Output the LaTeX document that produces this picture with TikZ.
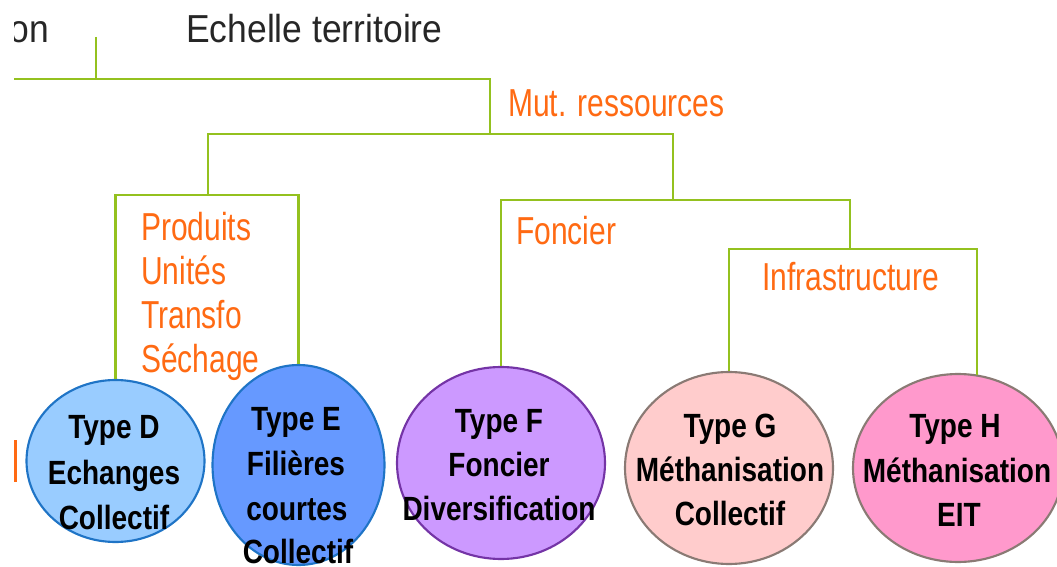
\documentclass[tikz,border=0pt]{standalone}
\usepackage{fontspec}
\setmainfont{Liberation Sans}
\usetikzlibrary{shapes.geometric}
\definecolor{gline}{HTML}{94C11F}
\definecolor{orng}{HTML}{FF6A13}
\definecolor{dfill}{HTML}{99CCFF}
\definecolor{dborder}{HTML}{1F74C6}
\definecolor{efill}{HTML}{6699FF}
\definecolor{ffill}{HTML}{CC99FF}
\definecolor{fborder}{HTML}{7434A6}
\definecolor{gfill}{HTML}{FFCCCC}
\definecolor{hfill}{HTML}{FF99CC}
\definecolor{ghborder}{HTML}{8A7A74}
\newcommand\vst[2]{\scalebox{1}[#1]{#2}}
\begin{document}
\begin{tikzpicture}[x=0.75pt,y=-0.75pt,
  conn/.style={draw=gline,line width=1.8pt},
  olab/.style={anchor=base west,inner sep=0pt,text=orng,font=\fontsize{22.5}{27}\selectfont},
  tlab/.style={anchor=base,inner sep=0pt,font=\bfseries\fontsize{21}{25}\selectfont},
  hlab/.style={inner sep=0pt,text=black!85,font=\fontsize{26.6}{32}\selectfont},
  bubble/.style={ellipse,inner sep=0pt,line width=1.6pt}]
\useasboundingbox (0,0) rectangle (1057,567);
\begin{scope}
\clip (14,0) rectangle (1057,567);
% header texts
\node[hlab,anchor=base east] (on) at (49,43) {\vst{1.1}{on}};
\node[hlab,anchor=base west] (echelle) at (186,43) {\vst{1.1}{Echelle territoire}};
% fragment at left edge
\fill[orng] (14,440) rectangle (16.5,482);
% orange labels
\node[olab] (mut) at (508,117) {\vst{1.3}{Mut. ressources}};
\node[olab] (p1) at (141,240) {\vst{1.3}{Produits}};
\node[olab] (p2) at (141,284) {\vst{1.3}{Unités}};
\node[olab] (p3) at (141,328) {\vst{1.3}{Transfo}};
\node[olab] (p4) at (141,372) {\vst{1.3}{Séchage}};
\node[olab] (fonc) at (516,244) {\vst{1.3}{Foncier}};
\node[olab] (infra) at (762,290) {\vst{1.3}{Infrastructure}};
% ellipses
\node[bubble,draw=dborder,fill=dfill,minimum width=133.5pt,minimum height=121.5pt] (eD) at (115.5,461) {};
\node[bubble,draw=dborder,fill=efill,minimum width=129pt,minimum height=150pt] (eE) at (298.5,465) {};
\node[bubble,draw=fborder,fill=ffill,minimum width=156pt,minimum height=144pt] (eF) at (501,463) {};
\node[bubble,draw=ghborder,fill=gfill,minimum width=156pt,minimum height=144pt] (eG) at (729,468) {};
\node[bubble,draw=ghborder,fill=hfill,minimum width=157.5pt,minimum height=141pt] (eH) at (958,468) {};
% texts in ellipses
\node[tlab] (d1) at (114,438) {\vst{1.2}{Type D}};
\node[tlab] (d2) at (114,484) {\vst{1.2}{Echanges}};
\node[tlab] (d3) at (114,529) {\vst{1.2}{Collectif}};
\node[tlab] (e1) at (296,430) {\vst{1.2}{Type E}};
\node[tlab] (e2) at (296,475) {\vst{1.2}{Filières}};
\node[tlab] (e3) at (297,520) {\vst{1.2}{courtes}};
\node[tlab] (e4) at (298,563) {\vst{1.2}{Collectif}};
\node[tlab] (f1) at (499,432) {\vst{1.2}{Type F}};
\node[tlab] (f2) at (499,476) {\vst{1.2}{Foncier}};
\node[tlab] (f3) at (499,520) {\vst{1.2}{Diversification}};
\node[tlab] (g1) at (730,437) {\vst{1.2}{Type G}};
\node[tlab] (g2) at (730,481) {\vst{1.2}{Méthanisation}};
\node[tlab] (g3) at (730,525) {\vst{1.2}{Collectif}};
\node[tlab] (h1) at (955,437) {\vst{1.2}{Type H}};
\node[tlab] (h2) at (957,482) {\vst{1.2}{Méthanisation}};
\node[tlab] (h3) at (959,526) {\vst{1.2}{EIT}};
% junction coordinates
\coordinate (a1) at (0,79);
\coordinate (a2) at (96,37);
\coordinate (a3) at (490,134);
\coordinate (b1) at (208,195);
\coordinate (b2) at (673,200);
\coordinate (c1) at (850,249);
\coordinate (hTop) at (977,375);
% connectors
\draw[conn] (a2) -- (a2 |- a1);
\draw[conn] (a1) -| (a3);
\draw[conn] (b1) |- (a3) -| (b2);
\draw[conn] (eD.north) |- (b1) -| (eE.north);
\draw[conn] (eF.north) |- (b2) -| (c1);
\draw[conn] (eG.north) |- (c1) -| (hTop);
\end{scope}
\end{tikzpicture}
\end{document}
